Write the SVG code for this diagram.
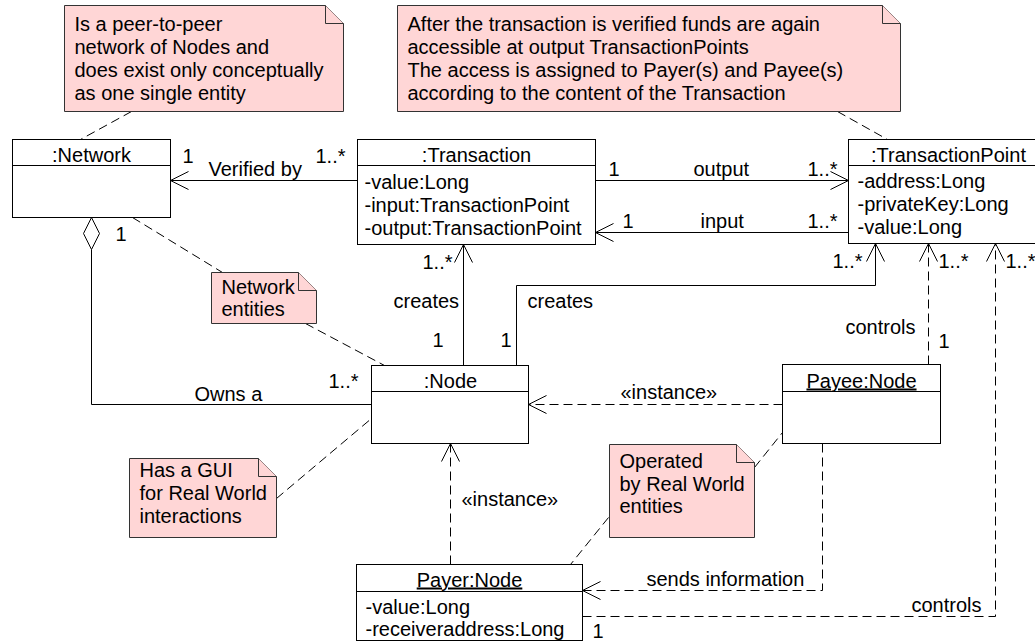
<svg xmlns="http://www.w3.org/2000/svg" width="1035" height="644" viewBox="0 0 1035 644">
<style>
text{font-family:"Liberation Sans",Arial,sans-serif;font-size:20px;fill:#000}
.c{text-anchor:middle}
.u{text-decoration:underline}
.box{fill:#fff;stroke:#000;stroke-width:1}
.note{fill:#ffd6d6;stroke:#333;stroke-width:1}
.ln{fill:none;stroke:#000;stroke-width:1}
.dl{fill:none;stroke:#000;stroke-width:1;stroke-dasharray:9,5}
.arr{marker-end:url(#open)}
</style>
<defs>
<marker id="open" viewBox="-20 -11 22 22" refX="0" refY="0" markerWidth="22" markerHeight="22" orient="auto" markerUnits="userSpaceOnUse">
<path d="M-18,-9 L0,0 L-18,9" fill="none" stroke="#000" stroke-width="1" stroke-dasharray="none"/>
</marker>
</defs>
<rect width="1035" height="644" fill="#fff"/>
<g transform="translate(0.5,0.5)">
<g id="connectors">
<path class="dl" d="M131,111 L80,139"/>
<path class="dl" d="M837,111 L887,139"/>
<path class="dl" d="M132,217 L222,272"/>
<path class="dl" d="M305,323 L384,365"/>
<path class="dl" d="M276,498 L371,418"/>
<path class="dl" d="M754,467 L782,432"/>
<path class="dl" d="M608,517 L570,564"/>
<path class="ln arr" d="M357,180 H170"/>
<path class="ln arr" d="M595,180 H848"/>
<path class="ln arr" d="M848,232 H595"/>
<path class="ln arr" d="M463,365 V244"/>
<path class="ln arr" d="M516,365 V285 H875 V243"/>
<path class="ln" d="M371,404 H91 V249"/>
<polygon points="91,217 99,233 91,249 83,233" fill="#fff" stroke="#000"/>
<path class="dl arr" d="M782,404 H528"/>
<path class="dl arr" d="M450,564 V443"/>
<path class="dl arr" d="M928,364 V243"/>
<path class="dl arr" d="M582,616 H995 V243"/>
<path class="dl arr" d="M822,443 V590 H582"/>
<text x="182" y="162">1</text>
<text x="208" y="175">Verified by</text>
<text x="315" y="162">1..*</text>
<text x="608" y="175">1</text>
<text x="693" y="175">output</text>
<text x="807" y="175">1..*</text>
<text x="622" y="227">1</text>
<text x="700" y="227">input</text>
<text x="807" y="227">1..*</text>
<text x="422" y="268">1..*</text>
<text x="393" y="307">creates</text>
<text x="432" y="346">1</text>
<text x="527" y="307">creates</text>
<text x="500" y="346">1</text>
<text x="832" y="267">1..*</text>
<text x="115" y="240">1</text>
<text x="194" y="400">Owns a</text>
<text x="328" y="387">1..*</text>
<text x="620" y="398">«instance»</text>
<text x="461" y="505">«instance»</text>
<text x="845" y="333">controls</text>
<text x="938" y="347">1</text>
<text x="938" y="267">1..*</text>
<text x="1005" y="267">1..*</text>
<text x="911" y="611">controls</text>
<text x="592" y="637">1</text>
<text x="646" y="585">sends information</text>
</g>
<g id="note-network">
<path class="note" d="M64,5 H325 L343,23 V111 H64 Z"/>
<path class="note" d="M325,5 V23 H343" fill="none"/>
<text x="74" y="30">Is a peer-to-peer</text>
<text x="74" y="53">network of Nodes and</text>
<text x="74" y="76">does exist only conceptually</text>
<text x="74" y="99">as one single entity</text>
</g>
<g id="note-transaction">
<path class="note" d="M397,5 H882 L900,23 V111 H397 Z"/>
<path class="note" d="M882,5 V23 H900" fill="none"/>
<text x="407" y="30">After the transaction is verified funds are again</text>
<text x="407" y="53">accessible at output TransactionPoints</text>
<text x="407" y="76">The access is assigned to Payer(s) and Payee(s)</text>
<text x="407" y="99">according to the content of the Transaction</text>
</g>
<g id="network">
<rect class="box" x="12" y="139" width="158" height="78"/>
<path class="ln" d="M12,165 H170"/>
<text class="c" x="91" y="161">:Network</text>
</g>
<g id="transaction">
<rect class="box" x="357" y="139" width="238" height="105"/>
<path class="ln" d="M357,165 H595"/>
<text class="c" x="476" y="161">:Transaction</text>
<text x="364" y="188">-value:Long</text>
<text x="364" y="211">-input:TransactionPoint</text>
<text x="364" y="234">-output:TransactionPoint</text>
</g>
<g id="transactionpoint">
<rect class="box" x="848" y="139" width="200" height="104"/>
<path class="ln" d="M848,165 H1048"/>
<text class="c" x="948" y="161">:TransactionPoint</text>
<text x="857" y="187">-address:Long</text>
<text x="857" y="210">-privateKey:Long</text>
<text x="857" y="233">-value:Long</text>
</g>
<g id="note-entities">
<path class="note" d="M211,272 H298 L316,290 V323 H211 Z"/>
<path class="note" d="M298,272 V290 H316" fill="none"/>
<text x="221" y="293">Network</text>
<text x="221" y="315">entities</text>
</g>
<g id="node">
<rect class="box" x="371" y="365" width="157" height="78"/>
<path class="ln" d="M371,391 H528"/>
<text class="c" x="450" y="387">:Node</text>
</g>
<g id="payee">
<rect class="box" x="782" y="364" width="158" height="79"/>
<path class="ln" d="M782,391 H940"/>
<text class="c u" x="861" y="387">Payee:Node</text>
</g>
<g id="note-gui">
<path class="note" d="M129,458 H258 L276,476 V537 H129 Z"/>
<path class="note" d="M258,458 V476 H276" fill="none"/>
<text x="139" y="476">Has a GUI</text>
<text x="139" y="499">for Real World</text>
<text x="139" y="522">interactions</text>
</g>
<g id="note-operated">
<path class="note" d="M609,444 H736 L754,462 V537 H609 Z"/>
<path class="note" d="M736,444 V462 H754" fill="none"/>
<text x="619" y="467">Operated</text>
<text x="619" y="490">by Real World</text>
<text x="619" y="512">entities</text>
</g>
<g id="payer">
<rect class="box" x="356" y="564" width="226" height="76"/>
<path class="ln" d="M356,591 H582"/>
<text class="c u" x="469" y="586">Payer:Node</text>
<text x="365" y="613">-value:Long</text>
<text x="365" y="635">-receiveraddress:Long</text>
</g>
</g>
</svg>
